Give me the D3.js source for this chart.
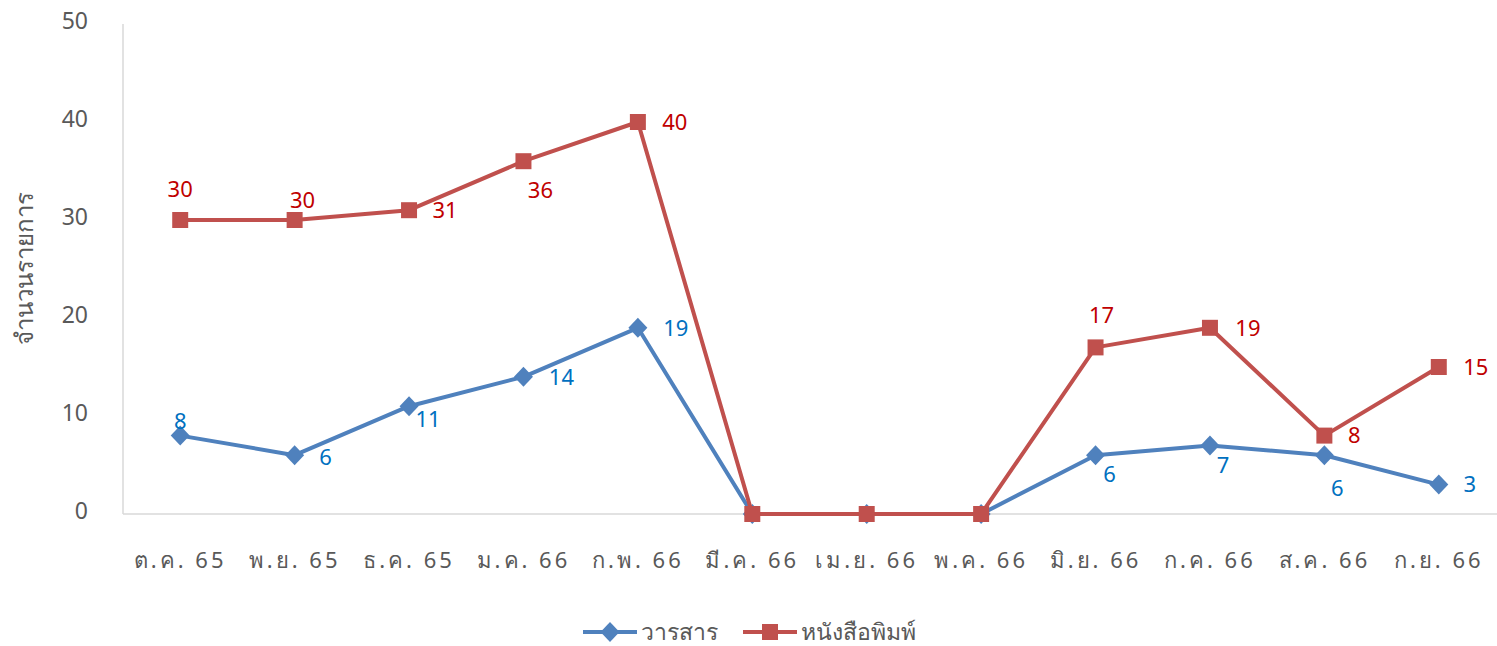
<!DOCTYPE html>
<html>
<head>
<meta charset="utf-8">
<script src="https://cdn.jsdelivr.net/npm/d3@7"></script>
<style>
  body { margin: 0; background: #fff; }
  text { font-family: "Noto Sans", "Open Sans", sans-serif; }
</style>
</head>
<body>
<div id="chart"></div>
<script>
var months = ["ต.ค. 65", "พ.ย. 65", "ธ.ค. 65", "ม.ค. 66", "ก.พ. 66", "มี.ค. 66",
              "เม.ย. 66", "พ.ค. 66", "มิ.ย. 66", "ก.ค. 66", "ส.ค. 66", "ก.ย. 66"];
var journals = [8, 6, 11, 14, 19, 0, 0, 0, 6, 7, 6, 3];
var newspapers = [30, 30, 31, 36, 40, 0, 0, 0, 17, 19, 8, 15];
var yTicks = [0, 10, 20, 30, 40, 50];

// label nudges (dx, dy from the point centre); null = no label shown
var journalNudge = [[0, -14], [31, 2], [19, 13], [38, 0], [38, 0], null, null, null,
                    [14, 19], [13, 20], [13, 33], [31, 0]];
var paperNudge = [[0, -31], [8, -20], [36, 0], [17, 29], [37, 0], null, null, null,
                  [6, -32], [38, 0], [30, 0], [37, 0]];

var width = 1497, height = 646;
var margin = {top: 24, right: 1, bottom: 131, left: 123};

var svg = d3.select("#chart").append("svg")
    .attr("width", width)
    .attr("height", height);

var x = d3.scaleBand()
    .domain(months)
    .range([margin.left, width - margin.right]);

var y = d3.scaleLinear()
    .domain([0, 50])
    .range([height - margin.bottom - 1, margin.top]);

// axes lines
svg.append("line")
    .attr("x1", margin.left).attr("x2", margin.left)
    .attr("y1", y(50)).attr("y2", y(0))
    .attr("stroke", "#d9d9d9").attr("stroke-width", 1.5);
svg.append("line")
    .attr("x1", margin.left).attr("x2", width)
    .attr("y1", y(0)).attr("y2", y(0))
    .attr("stroke", "#d9d9d9").attr("stroke-width", 1.5);

svg.selectAll(".ytick")
    .data(yTicks)
    .enter().append("text")
    .attr("class", "ytick")
    .attr("x", 88)
    .attr("y", function(d) { return y(d) - 3; })
    .attr("dy", ".35em")
    .attr("text-anchor", "end")
    .attr("font-size", 23)
    .attr("fill", "#595959")
    .text(function(d) { return d; });

svg.selectAll(".xtick")
    .data(months)
    .enter().append("text")
    .attr("class", "xtick")
    .attr("x", function(d) { return x(d) + x.bandwidth() / 2; })
    .attr("y", 568)
    .attr("text-anchor", "middle")
    .attr("font-size", 22)
    .attr("letter-spacing", 3)
    .attr("fill", "#595959")
    .text(function(d) { return d; });

svg.append("text")
    .attr("transform", "translate(33,268) rotate(-90)")
    .attr("text-anchor", "middle")
    .attr("font-size", 24)
    .attr("fill", "#595959")
    .text("จำนวนรายการ");

function cx(i) { return x(months[i]) + x.bandwidth() / 2; }

var line = d3.line()
    .x(function(d, i) { return cx(i); })
    .y(function(d) { return y(d); });

var diamond = "M0,-10L9.5,0L0,10L-9.5,0Z";
var square = "M-8,-8H8V8H-8Z";

function drawSeries(values, color, marker) {
    var g = svg.append("g");
    g.append("path")
        .datum(values)
        .attr("fill", "none")
        .attr("stroke", color)
        .attr("stroke-width", 4)
        .attr("stroke-linejoin", "round")
        .attr("d", line);

    g.selectAll(".marker")
        .data(values)
        .enter().append("path")
        .attr("class", "marker")
        .attr("transform", function(d, i) { return "translate(" + cx(i) + "," + y(d) + ")"; })
        .attr("d", marker)
        .attr("fill", color);
}

function drawLabels(values, labelColor, nudge) {
    var pts = values.map(function(v, i) { return {v: v, i: i, n: nudge[i]}; })
        .filter(function(d) { return d.n; });
    svg.append("g").selectAll("text")
        .data(pts)
        .enter().append("text")
        .attr("x", function(d) { return cx(d.i) + d.n[0]; })
        .attr("y", function(d) { return y(d.v) + d.n[1]; })
        .attr("dy", ".35em")
        .attr("text-anchor", "middle")
        .attr("font-size", 22)
        .attr("fill", labelColor)
        .text(function(d) { return d.v; });
}

drawSeries(journals, "#4f81bd", diamond);
drawSeries(newspapers, "#c0504d", square);
drawLabels(journals, "#0070c0", journalNudge);
drawLabels(newspapers, "#c00000", paperNudge);

// legend
var legend = [
    {name: "วารสาร", color: "#4f81bd", marker: diamond, x: 583},
    {name: "หนังสือพิมพ์", color: "#c0504d", marker: square, x: 743}
];
var lg = svg.selectAll(".legend")
    .data(legend)
    .enter().append("g")
    .attr("class", "legend")
    .attr("transform", function(d) { return "translate(" + d.x + ",632)"; });
lg.append("line")
    .attr("x1", 0).attr("x2", 54)
    .attr("stroke", function(d) { return d.color; })
    .attr("stroke-width", 4);
lg.append("path")
    .attr("transform", "translate(27,0)")
    .attr("d", function(d) { return d.marker; })
    .attr("fill", function(d) { return d.color; });
lg.append("text")
    .attr("x", 58)
    .attr("dy", ".35em")
    .attr("font-size", 23)
    .attr("fill", "#595959")
    .text(function(d) { return d.name; });
</script>
</body>
</html>
